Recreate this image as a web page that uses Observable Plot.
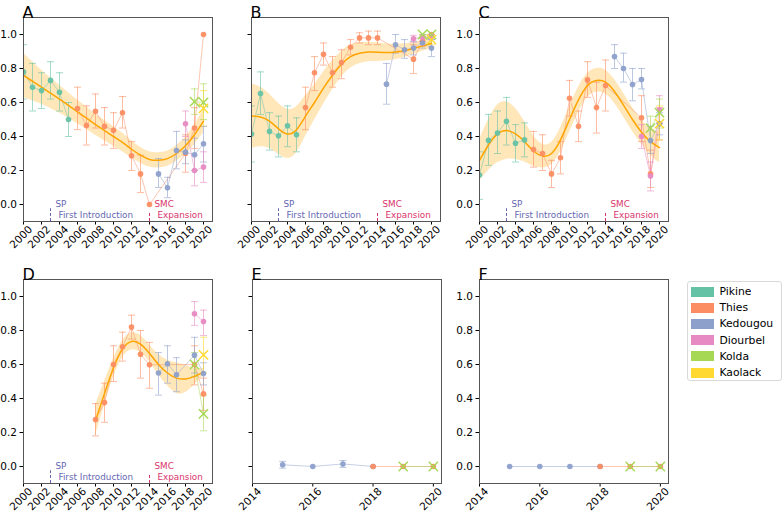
<!DOCTYPE html>
<html><head><meta charset="utf-8">
<script src="https://cdn.jsdelivr.net/npm/d3@7"></script>
<script src="https://cdn.jsdelivr.net/npm/@observablehq/plot@0.6"></script>
<style>
body{margin:0;background:#fff;font-family:"DejaVu Sans",sans-serif;}
#fig{position:relative;width:784px;height:515px;overflow:hidden;background:#fff;}
#fig > svg{position:absolute;overflow:visible;}
#legend{position:absolute;left:687px;top:281px;width:95px;height:100px;border:1px solid #d9d9d9;border-radius:3px;box-sizing:border-box;padding:2px 0 0 3px;font-family:"DejaVu Sans",sans-serif;font-size:10.8px;line-height:15.2px;color:#000;}
</style></head><body><div id="fig"><div id="legend"></div></div>
<script>
const regions = ["Pikine","Thies","Kedougou","Diourbel","Kolda","Kaolack"];
const regionColors = ["#66c2a5","#fc8d62","#8da0cb","#e78ac3","#a6d854","#ffd92f"];
const crossRegions = ["Kolda","Kaolack"];
const yTicks = [0,0.2,0.4,0.6,0.8,1.0];
const xTicksLong = [2000,2002,2004,2006,2008,2010,2012,2014,2016,2018,2020];
const xTicksShort = [2014,2016,2018,2020];
const spYear = 2003, smcYear = 2014;
const spLabels = ["SP","First Introduction"];
const smcLabels = ["SMC","Expansion"];

// [region, year, value, low, high]
const panelA = [
["Pikine",2000,0.78,0.62,0.94],["Pikine",2001,0.69,0.55,0.83],["Pikine",2002,0.67,0.565,0.775],
["Pikine",2003,0.73,0.62,0.84],["Pikine",2004,0.66,0.55,0.775],["Pikine",2005,0.50,0.40,0.60],
["Thies",2006,0.565,0.44,0.69],["Thies",2007,0.465,0.35,0.58],["Thies",2008,0.548,0.45,0.65],
["Thies",2009,0.46,0.35,0.57],["Thies",2010,0.437,0.33,0.54],["Thies",2011,0.54,0.45,0.635],
["Thies",2012,0.287,0.20,0.37],["Thies",2013,0.18,0.07,0.29],["Thies",2014,0.0,0.0,0.0],
["Thies",2018,0.30,0.19,0.41],["Thies",2019,0.45,0.33,0.57],["Thies",2020,1.0,1.0,1.0],
["Kedougou",2015,0.18,0.10,0.27],["Kedougou",2016,0.098,0.04,0.16],["Kedougou",2017,0.318,0.21,0.43],
["Kedougou",2018,0.308,0.24,0.38],["Kedougou",2019,0.293,0.20,0.39],["Kedougou",2020,0.357,0.25,0.46],
["Diourbel",2018,0.475,0.40,0.55],["Diourbel",2019,0.20,0.11,0.29],["Diourbel",2020,0.22,0.13,0.31],
["Kolda",2019,0.605,0.53,0.68],["Kolda",2020,0.60,0.50,0.71],
["Kaolack",2020,0.565,0.46,0.67]
];
// [year, fit, half-width of band]
const fitA = [[2000,.76,.13],[2001,.725,.115],[2002,.69,.10],[2003,.655,.09],[2004,.62,.082],[2005,.583,.075],
[2006,.545,.07],[2007,.508,.065],[2008,.47,.062],[2009,.435,.06],[2010,.40,.058],[2011,.365,.055],[2012,.325,.05],
[2013,.29,.047],[2014,.265,.045],[2015,.26,.045],[2016,.27,.045],[2017,.30,.046],[2018,.345,.05],[2019,.41,.057],[2020,.49,.07]];

const panelB = [
["Pikine",2000,0.414,0.25,0.58],["Pikine",2001,0.653,0.53,0.78],["Pikine",2002,0.43,0.32,0.54],
["Pikine",2003,0.404,0.28,0.52],["Pikine",2004,0.463,0.34,0.58],["Pikine",2005,0.41,0.31,0.51],
["Thies",2006,0.57,0.44,0.69],["Thies",2007,0.775,0.67,0.87],["Thies",2008,0.884,0.82,0.95],
["Thies",2009,0.775,0.69,0.87],["Thies",2010,0.835,0.74,0.91],["Thies",2011,0.925,0.88,0.97],
["Thies",2012,0.98,0.95,1.01],["Thies",2013,0.98,0.94,1.02],["Thies",2014,0.98,0.94,1.02],
["Thies",2018,0.855,0.77,0.94],["Thies",2019,0.96,0.93,0.99],["Thies",2020,1.0,0.98,1.0],
["Kedougou",2015,0.708,0.59,0.83],["Kedougou",2016,0.94,0.89,1.0],["Kedougou",2017,0.91,0.86,0.97],
["Kedougou",2018,0.92,0.88,0.96],["Kedougou",2019,0.95,0.92,0.98],["Kedougou",2020,0.92,0.87,0.97],
["Diourbel",2018,0.975,0.955,0.995],["Diourbel",2019,0.985,0.96,1.0],["Diourbel",2020,0.99,0.97,1.0],
["Kolda",2019,1.0,0.98,1.0],["Kolda",2020,1.0,0.98,1.0],
["Kaolack",2020,0.97,0.94,1.0]
];
const fitB = [[2000,.52,.19],[2001,.515,.175],[2002,.49,.16],[2003,.445,.15],[2004,.415,.145],[2005,.44,.135],
[2006,.52,.12],[2007,.60,.105],[2008,.685,.095],[2009,.76,.085],[2010,.825,.075],[2011,.87,.068],[2012,.89,.062],
[2013,.897,.058],[2014,.896,.055],[2015,.894,.05],[2016,.897,.045],[2017,.905,.04],[2018,.918,.035],[2019,.933,.032],[2020,.948,.03]];

const panelC = [
["Pikine",2000,0.173,0.03,0.31],["Pikine",2001,0.378,0.23,0.53],["Pikine",2002,0.42,0.30,0.55],
["Pikine",2003,0.49,0.35,0.63],["Pikine",2004,0.36,0.25,0.47],["Pikine",2005,0.38,0.28,0.48],
["Thies",2006,0.323,0.22,0.43],["Thies",2007,0.30,0.20,0.41],["Thies",2008,0.18,0.10,0.26],
["Thies",2009,0.275,0.18,0.37],["Thies",2010,0.625,0.52,0.73],["Thies",2011,0.46,0.37,0.55],
["Thies",2012,0.733,0.63,0.84],["Thies",2013,0.57,0.42,0.72],["Thies",2014,0.70,0.55,0.85],
["Thies",2018,0.51,0.37,0.64],["Thies",2019,0.18,0.10,0.32],["Thies",2020,0.476,0.38,0.57],
["Kedougou",2015,0.87,0.80,0.94],["Kedougou",2016,0.80,0.72,0.89],["Kedougou",2017,0.706,0.61,0.80],
["Kedougou",2018,0.735,0.68,0.80],["Kedougou",2019,0.376,0.30,0.46],["Kedougou",2020,0.475,0.41,0.54],
["Diourbel",2018,0.40,0.33,0.47],["Diourbel",2019,0.167,0.08,0.25],["Diourbel",2020,0.557,0.48,0.64],
["Kolda",2019,0.449,0.38,0.52],["Kolda",2020,0.54,0.45,0.62],
["Kaolack",2020,0.476,0.38,0.58]
];
const fitC = [[2000,.26,.12],[2001,.35,.15],[2002,.415,.17],[2003,.435,.17],[2004,.415,.15],[2005,.37,.12],
[2006,.315,.09],[2007,.285,.07],[2008,.30,.065],[2009,.38,.07],[2010,.50,.075],[2011,.615,.075],[2012,.70,.07],
[2013,.73,.07],[2014,.72,.07],[2015,.665,.07],[2016,.585,.07],[2017,.50,.07],[2018,.425,.07],[2019,.37,.08],[2020,.335,.09]];

const panelD = [
["Thies",2008,0.276,0.18,0.37],["Thies",2009,0.376,0.26,0.49],["Thies",2010,0.60,0.50,0.71],
["Thies",2011,0.704,0.62,0.79],["Thies",2012,0.82,0.75,0.89],["Thies",2013,0.66,0.52,0.80],
["Thies",2014,0.598,0.46,0.73],["Thies",2019,0.60,0.48,0.71],["Thies",2020,0.427,0.33,0.52],
["Kedougou",2015,0.55,0.42,0.67],["Kedougou",2016,0.604,0.49,0.71],["Kedougou",2017,0.54,0.44,0.64],
["Kedougou",2019,0.655,0.55,0.76],["Kedougou",2020,0.547,0.48,0.61],
["Diourbel",2019,0.898,0.83,0.97],["Diourbel",2020,0.853,0.77,0.92],
["Kolda",2019,0.60,0.53,0.67],["Kolda",2020,0.31,0.21,0.42],
["Kaolack",2020,0.657,0.55,0.76]
];
const fitD = [[2008,.27,.09],[2009,.43,.07],[2010,.58,.055],[2011,.69,.05],[2012,.735,.05],[2013,.72,.05],
[2014,.665,.05],[2015,.60,.06],[2016,.55,.075],[2017,.52,.09],[2018,.515,.08],[2019,.53,.05],[2020,.555,.02]];

const panelE = [
["Kedougou",2015,0.01,-0.01,0.03],["Kedougou",2016,0.0,0.0,0.0],["Kedougou",2017,0.015,-0.005,0.035],
["Kedougou",2018,0.0,0.0,0.0],
["Thies",2018,0.0,0.0,0.0],["Thies",2019,0.0,0.0,0.0],["Thies",2020,0.0,0.0,0.0],
["Kolda",2019,0.0,0.0,0.0],["Kolda",2020,0.0,0.0,0.0]
];
const panelF = [
["Kedougou",2015,0.0,0.0,0.0],["Kedougou",2016,0.0,0.0,0.0],["Kedougou",2017,0.0,0.0,0.0],
["Kedougou",2018,0.0,0.0,0.0],
["Thies",2018,0.0,0.0,0.0],["Thies",2019,0.0,0.0,0.0],["Thies",2020,0.0,0.0,0.0],
["Kolda",2019,0.0,0.0,0.0],["Kolda",2020,0.0,0.0,0.0]
];

const spColor = "#6567b3", smcColor = "#d9336b";
const capSymbol = {draw(ctx, size){ const r = Math.sqrt(size/Math.PI); ctx.moveTo(-r,0); ctx.lineTo(r,0); }};

const FW = 189, FH = 204, ML = 23, MT = 22, MR = 16, MB = 40;

function panel(cfg){
  const rows = cfg.data.map(([site,year,v,lo,hi]) => ({site,year,v,lo,hi}));
  const errs = rows.filter(d => d.hi > d.lo);
  const fit = (cfg.fit||[]).map(([year,v,h]) => ({year,v,lo:v-h,hi:v+h}));
  const marks = [];
  if (fit.length){
    marks.push(Plot.areaY(fit,{x:"year",y1:"lo",y2:"hi",fill:"#ffa500",fillOpacity:0.27,curve:"natural"}));
  }
  marks.push(Plot.line(rows,{x:"year",y:"v",z:"site",stroke:"site",strokeOpacity:0.5,strokeWidth:1,clip:true}));
  marks.push(Plot.ruleX(errs,{x:"year",y1:"lo",y2:"hi",stroke:"site",strokeOpacity:0.6,strokeWidth:1,clip:true}));
  marks.push(Plot.dot(errs,{x:"year",y:"lo",symbol:capSymbol,r:3.5,stroke:"site",fill:"none",strokeOpacity:0.6,strokeWidth:1,clip:true}));
  marks.push(Plot.dot(errs,{x:"year",y:"hi",symbol:capSymbol,r:3.5,stroke:"site",fill:"none",strokeOpacity:0.6,strokeWidth:1,clip:true}));
  if (fit.length){
    marks.push(Plot.line(fit,{x:"year",y:"v",stroke:"#ffa500",strokeWidth:1.5,curve:"natural"}));
  }
  marks.push(Plot.dot(rows.filter(d => !crossRegions.includes(d.site)),{x:"year",y:"v",fill:"site",r:2.8,fillOpacity:0.95,clip:true}));
  marks.push(Plot.dot(rows.filter(d => crossRegions.includes(d.site)),{x:"year",y:"v",symbol:"times",stroke:"site",r:4.3,strokeWidth:1.4,clip:true}));
  if (cfg.annot){
    marks.push(Plot.ruleX([spYear],{x:d=>d,y1:-0.1,y2:-0.025,stroke:spColor,strokeDasharray:"3,2",strokeWidth:1}));
    marks.push(Plot.ruleX([smcYear],{x:d=>d,y1:-0.1,y2:-0.05,stroke:smcColor,strokeDasharray:"3,2",strokeWidth:1}));
    marks.push(Plot.text([spLabels[0]],{x:()=>spYear,y:()=>0,text:d=>d,dx:5,textAnchor:"start",fill:spColor,fontSize:8.8}));
    marks.push(Plot.text([spLabels[1]],{x:()=>spYear,y:()=>-0.065,text:d=>d,dx:8,textAnchor:"start",fill:spColor,fontSize:8.8}));
    marks.push(Plot.text([smcLabels[0]],{x:()=>smcYear,y:()=>0,text:d=>d,dx:5,textAnchor:"start",fill:smcColor,fontSize:8.8}));
    marks.push(Plot.text([smcLabels[1]],{x:()=>smcYear,y:()=>-0.065,text:d=>d,dx:8,textAnchor:"start",fill:smcColor,fontSize:8.8}));
  }
  marks.push(Plot.axisY({ticks:yTicks,tickSize:3.5,tickPadding:3,label:null,fontSize:10.5,
    tickFormat: cfg.yLabels ? (d => d.toFixed(1)) : (() => "")}));
  marks.push(Plot.axisX({ticks:cfg.xTicks,tickSize:3.5,label:null,tickFormat:() => ""}));
  marks.push(Plot.text(cfg.xTicks,{x:d=>d,text:d=>String(d),frameAnchor:"bottom",dy:18,rotate:-45,textAnchor:"middle",fontSize:10.5,fill:"#000"}));
  marks.push(Plot.frame({stroke:"#555",strokeWidth:1}));
  marks.push(Plot.text([cfg.title],{frameAnchor:"top-left",text:d=>d,dy:-11,dx:-1,textAnchor:"start",fontSize:16,fill:"#000"}));
  const svg = Plot.plot({
    width: ML+FW+MR, height: MT+FH+MB,
    marginLeft: ML, marginRight: MR, marginTop: MT, marginBottom: MB,
    x: {domain: cfg.xDomain},
    y: {domain: [-0.1,1.1]},
    color: {domain: regions, range: regionColors},
    style: {fontFamily:"DejaVu Sans", fontSize:"10.5px", background:"transparent", color:"#000", overflow:"visible"},
    marks
  });
  svg.style.left = (cfg.left - ML) + "px";
  svg.style.top = (cfg.top - MT) + "px";
  document.getElementById("fig").appendChild(svg);
}

panel({title:"A",data:panelA,fit:fitA,xDomain:[2000,2021],xTicks:xTicksLong,yLabels:true,annot:true,left:23,top:17});
panel({title:"B",data:panelB,fit:fitB,xDomain:[2000,2021],xTicks:xTicksLong,yLabels:false,annot:true,left:251,top:17});
panel({title:"C",data:panelC,fit:fitC,xDomain:[2000,2021],xTicks:xTicksLong,yLabels:true,annot:true,left:479,top:17});
panel({title:"D",data:panelD,fit:fitD,xDomain:[2000,2021],xTicks:xTicksLong,yLabels:true,annot:true,left:23,top:279});
panel({title:"E",data:panelE,fit:null,xDomain:[2014,2020.27],xTicks:xTicksShort,yLabels:false,annot:false,left:252,top:279});
panel({title:"F",data:panelF,fit:null,xDomain:[2014,2020.27],xTicks:xTicksShort,yLabels:true,annot:false,left:479,top:279});

const leg = Plot.legend({color:{domain:regions,range:regionColors},legend:"swatches",columns:1,swatchWidth:23,swatchHeight:10,
  style:{fontFamily:"DejaVu Sans",fontSize:"10.8px",lineHeight:"15.2px",margin:"0",color:"#000"}});
document.getElementById("legend").appendChild(leg);
</script></body></html>
